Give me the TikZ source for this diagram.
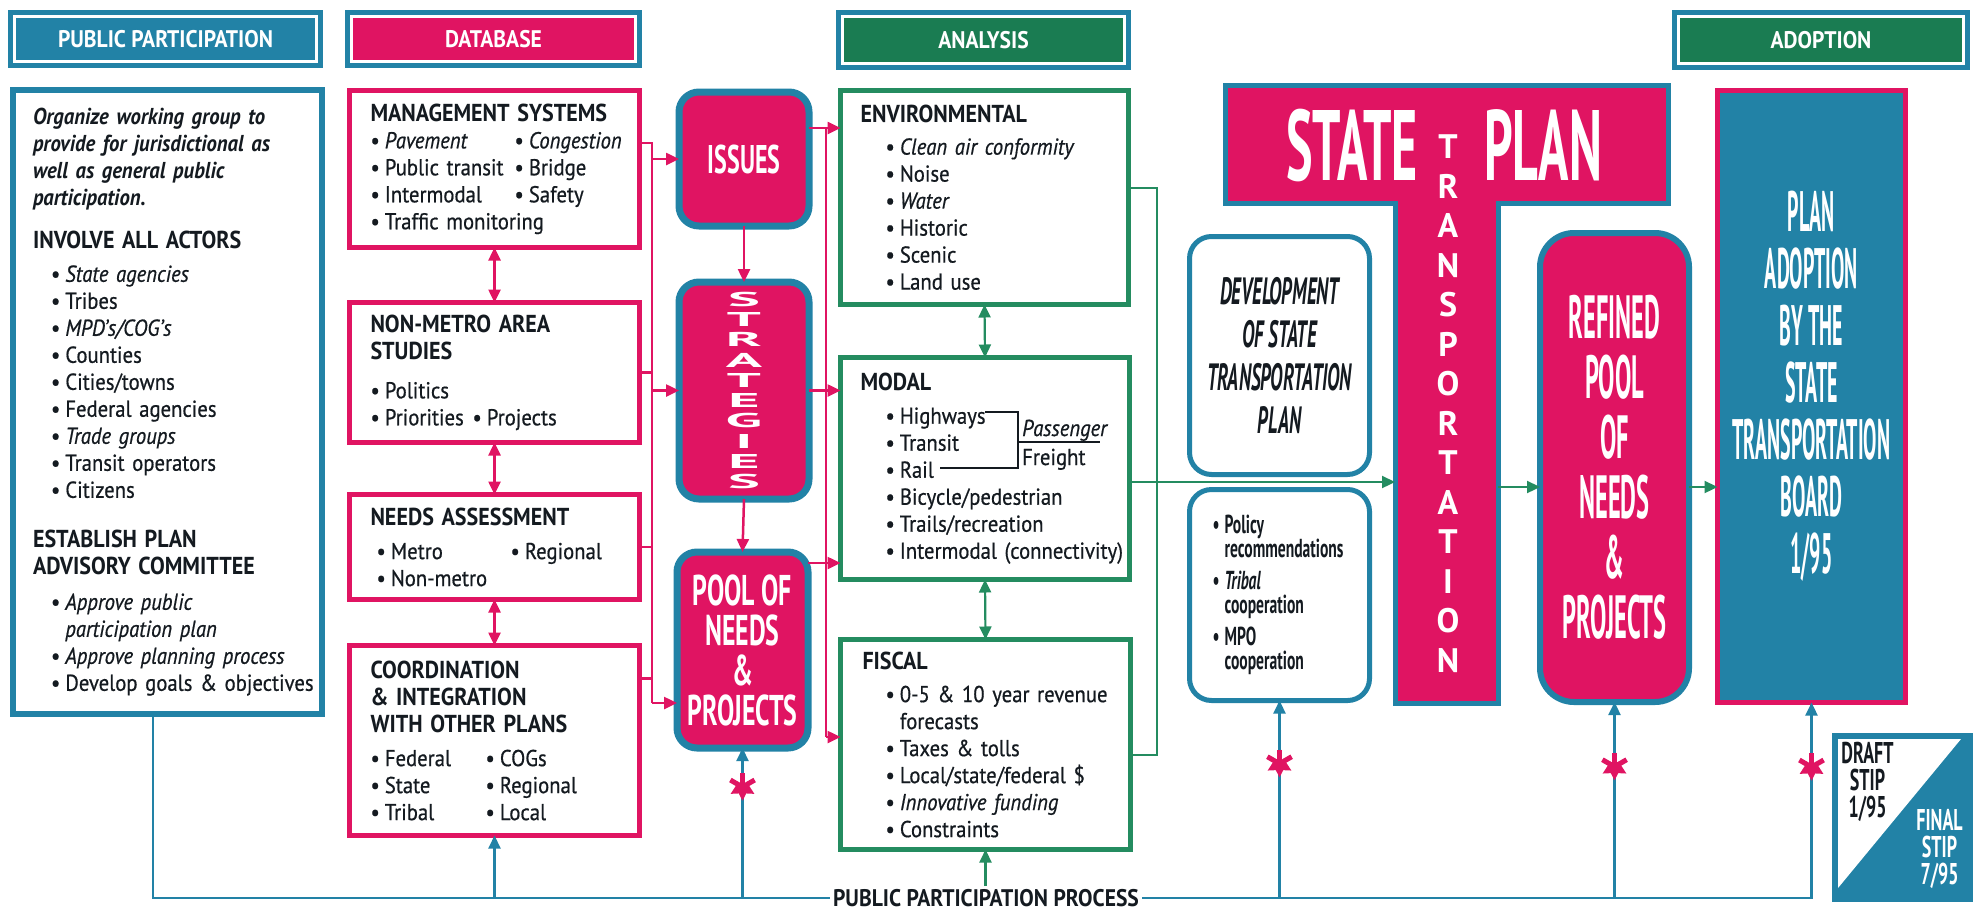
\documentclass[tikz,border=0pt]{standalone}
\usepackage{fontspec}
\setmainfont{PT Sans}[FakeStretch=0.9, UprightFeatures={FakeBold=0.6}, ItalicFeatures={FakeBold=0.6}]
\newfontfamily\narrowA{PT Sans}[FakeStretch=0.35]
\newfontfamily\narrowR{PT Sans}[FakeStretch=0.4]
\newfontfamily\narrowB{PT Sans}[FakeStretch=0.5]
\newfontfamily\narrowC{PT Sans}[FakeStretch=0.6]
\newfontfamily\wideF{PT Sans}[FakeStretch=3.0]
\newfontfamily\plainF{PT Sans}
\usetikzlibrary{arrows.meta}

\definecolor{magc}{RGB}{224,20,98}
\definecolor{tealc}{RGB}{34,130,166}
\definecolor{grnc}{RGB}{26,124,82}
\definecolor{grnl}{RGB}{36,140,96}
\definecolor{inkc}{RGB}{20,26,32}

\newcommand{\bodyfont}{\fontsize{23}{27}\selectfont}
\newcommand{\hd}[1]{{\bfseries\fontsize{24.5}{27}\selectfont #1}}
\newcommand{\bl}{\textbullet\hspace{5pt}}
\newcommand{\tw}[3][144pt]{\makebox[#1][l]{\bl #2}\bl #3}
\newcommand{\ind}[1][18pt]{\hspace*{#1}}
\newcommand{\lm}[1]{\leftskip=#1\relax}

\tikzset{
  hdr/.style={fill=#1, draw=white, line width=2.5pt, preaction={draw=tealc, line width=13pt},
    text=white, font=\bfseries\fontsize{24}{26}\selectfont, inner sep=0pt},
  txtbox/.style={draw=#1, line width=5pt, fill=white, anchor=north west, outer sep=0pt,
    inner xsep=4pt, inner ysep=2pt, align=left, text=inkc, font=\bodyfont},
  rbox/.style={draw=tealc, line width=5pt, fill=white, rounded corners=22pt, anchor=north west,
    outer sep=0pt, inner sep=0pt, text=inkc, align=center},
  magbox/.style={fill=magc, draw=tealc, line width=7pt, rounded corners=20pt, anchor=north west,
    outer sep=0pt, inner sep=0pt, text=white, align=center},
  mline/.style={draw=magc, line width=2.5pt},
  gline/.style={draw=grnl, line width=2.2pt},
  tline/.style={draw=tealc, line width=2.2pt},
  asterisk/.style={circle, minimum size=34pt, inner sep=0pt, path picture={
    \foreach \a in {30,90,150}
      \draw[magc, line width=5pt] (path picture bounding box.center) ++(\a:14pt) -- ++(\a+180:28pt);}}
}

\begin{document}
\begin{tikzpicture}[x=1pt, y=-1pt, >={Triangle[length=13pt,width=12pt]}]
\fill[white] (0,0) rectangle (1980,911);
\useasboundingbox (0,0) rectangle (1980,911);

% column headers
\node[hdr=tealc, minimum width=302pt, minimum height=45pt] (hpp) at (165.5,39) {PUBLIC PARTICIPATION};
\node[hdr=magc, minimum width=284pt, minimum height=45pt] (hdb) at (493.5,39) {DATABASE};
\node[hdr=grnc, minimum width=282pt, minimum height=47pt] (han) at (983.5,40) {ANALYSIS};
\node[hdr=grnc, minimum width=285pt, minimum height=47pt] (had) at (1821,40) {ADOPTION};

% public participation
\node[txtbox=tealc, line width=6pt, minimum width=309pt, minimum height=624pt, text width=301pt] (pp) at (13,90) {\lm{16pt}%
  {\bfseries\itshape Organize working group to\\ provide for jurisdictional as\\ well as general public\\ participation.}\\[16pt]
  \hd{INVOLVE ALL ACTORS}\\[6pt]
  \ind\bl\textit{State agencies}\\
  \ind\bl Tribes\\
  \ind\bl\textit{MPD's/COG's}\\
  \ind\bl Counties\\
  \ind\bl Cities/towns\\
  \ind\bl Federal agencies\\
  \ind\bl\textit{Trade groups}\\
  \ind\bl Transit operators\\
  \ind\bl Citizens\\[23pt]
  \hd{ESTABLISH PLAN}\\
  \hd{ADVISORY COMMITTEE}\\[8pt]
  \ind\bl\textit{Approve public}\\
  \ind\phantom{\bl}\textit{participation plan}\\
  \ind\bl\textit{Approve planning process}\\
  \ind\bl Develop goals \& objectives\par};

% database
\node[txtbox=magc, minimum width=290pt, minimum height=157pt, text width=282pt] (mgmt) at (349.5,90.5) {\lm{17pt}%
  \hd{MANAGEMENT SYSTEMS}\\
  \tw{\textit{Pavement}}{\textit{Congestion}}\\
  \tw{Public transit}{Bridge}\\
  \tw{Intermodal}{Safety}\\
  \bl Traffic monitoring\par};
\node[txtbox=magc, minimum width=290pt, minimum height=140pt, text width=282pt] (nonmetro) at (349.5,302.5) {\lm{17pt}%
  \hd{NON-METRO AREA}\\
  \hd{STUDIES}\\[12pt]
  \bl Politics\\
  \tw[102pt]{Priorities}{Projects}\par};
\node[txtbox=magc, minimum width=290pt, minimum height=105pt, text width=282pt] (needs) at (349.5,494.5) {\lm{17pt}%
  \hd{NEEDS ASSESSMENT}\\[7pt]
  \ind[6pt]\tw[134pt]{Metro}{Regional}\\
  \ind[6pt]\bl Non-metro\par};
\node[txtbox=magc, minimum width=290pt, minimum height=190pt, text width=282pt] (coord) at (349.5,645.5) {\lm{17pt}%
  \hd{COORDINATION}\\
  \hd{\& INTEGRATION}\\
  \hd{WITH OTHER PLANS}\\[7pt]
  \tw[115pt]{Federal}{COGs}\\
  \tw[115pt]{State}{Regional}\\
  \tw[115pt]{Tribal}{Local}\par};

% issues, strategies, pool
\node[magbox, minimum width=130pt, minimum height=134pt, font=\narrowC\bfseries\fontsize{40}{40}\selectfont] (issues) at (679,92) {ISSUES};
\node[magbox, minimum width=130pt, minimum height=217pt, font=\wideF\bfseries\fontsize{20}{20.3}\selectfont] (strat) at (679,282) {S\\T\\R\\A\\T\\E\\G\\I\\E\\S};
\node[magbox, minimum width=131pt, minimum height=196pt, font=\narrowC\bfseries\fontsize{43}{40}\selectfont] (pool) at (677,552) {POOL OF\\NEEDS\\\&\\PROJECTS};

% analysis
\node[txtbox=grnl, minimum width=288pt, minimum height=214pt, text width=280pt] (env) at (840.5,90.5) {\lm{16pt}%
  \hd{ENVIRONMENTAL}\\[5pt]
  \ind[25pt]\bl\textit{Clean air conformity}\\
  \ind[25pt]\bl Noise\\
  \ind[25pt]\bl\textit{Water}\\
  \ind[25pt]\bl Historic\\
  \ind[25pt]\bl Scenic\\
  \ind[25pt]\bl Land use\par};
\node[txtbox=grnl, minimum width=289pt, minimum height=222pt, text width=281pt] (modal) at (840.5,357.5) {\lm{16pt}%
  \hd{MODAL}\\[6pt]
  \ind[25pt]\bl Highways\\
  \ind[25pt]\bl Transit\\
  \ind[25pt]\bl Rail\\
  \ind[25pt]\bl Bicycle/pedestrian\\
  \ind[25pt]\bl Trails/recreation\\
  \ind[25pt]\bl Intermodal (connectivity)\par};
\node[txtbox=grnl, minimum width=290pt, minimum height=210pt, text width=282pt] (fiscal) at (840.5,639.5) {\lm{18pt}%
  \hd{FISCAL}\\[6pt]
  \ind[23pt]\bl 0-5 \& 10 year revenue\\
  \ind[23pt]\phantom{\bl}forecasts\\
  \ind[23pt]\bl Taxes \& tolls\\
  \ind[23pt]\bl Local/state/federal \$\\
  \ind[23pt]\bl\textit{Innovative funding}\\
  \ind[23pt]\bl Constraints\par};
\node[anchor=base west, font=\bodyfont\itshape, text=inkc, inner sep=0pt] (pass) at (1022,436) {Passenger};
\node[anchor=base west, font=\bodyfont, text=inkc, inner sep=0pt] (frt) at (1022,465) {Freight};
\draw[inkc, line width=1.3pt] (985,412) -| (1018,468) -- (940,468);
\draw[inkc, line width=1.3pt] (1018,442) -- (1100,442);

% development
\node[rbox, minimum width=180pt, minimum height=238pt, font=\narrowB\bfseries\itshape\fontsize{38}{43}\selectfont] (dev) at (1189.5,236.5) {DEVELOPMENT\\OF STATE\\TRANSPORTATION\\PLAN};
\node[rbox, minimum width=180pt, minimum height=211pt, align=left, text width=160pt, font=\narrowC\bfseries\fontsize{26}{24}\selectfont] (policy) at (1189.5,489.5) {\lm{13pt}%
  \bl Policy\\ \phantom{\bl}recommendations\\[8pt]
  \bl\textit{Tribal}\\ \phantom{\bl}cooperation\\[8pt]
  \bl MPO\\ \phantom{\bl}cooperation\par};

% state transportation plan
\node[fill=magc, draw=tealc, line width=5pt, anchor=north west, outer sep=0pt, minimum width=443pt, minimum height=118pt] (tbar) at (1225,85) {};
\node[fill=magc, draw=tealc, line width=5pt, anchor=north west, outer sep=0pt, minimum width=103pt, minimum height=500pt] (tstem) at (1395,203) {};
\fill[magc] ([xshift=2.5pt,yshift=4pt]tstem.north west) rectangle ([xshift=-2.5pt,yshift=-4pt]tstem.north east);
\node[text=white, font=\narrowB\bfseries\fontsize{100}{100}\selectfont, inner sep=0pt] (tstate) at (1352,145) {STATE};
\node[text=white, font=\narrowB\bfseries\fontsize{100}{100}\selectfont, inner sep=0pt] (tplan) at (1543,145) {PLAN};
\node[text=white, font=\plainF\bfseries\fontsize{34}{39.5}\selectfont, align=center, inner sep=0pt] (tword) at (1448,403.5) {T\\R\\A\\N\\S\\P\\O\\R\\T\\A\\T\\I\\O\\N};

% refined pool and adoption
\node[magbox, line width=6pt, rounded corners=34pt, minimum width=149pt, minimum height=469pt, font=\narrowR\bfseries\fontsize{61}{60}\selectfont] (refined) at (1540,233) {REFINED\\POOL\\OF\\NEEDS\\\&\\PROJECTS};
\node[fill=tealc, draw=magc, line width=5pt, anchor=north west, outer sep=0pt, minimum width=188pt, minimum height=612pt] (adopt) at (1717.5,90.5) {};
\node[text=white, font=\narrowA\bfseries\fontsize{57}{57}\selectfont, align=center, inner sep=0pt] (adopttxt) at ([yshift=10pt]adopt.center) {PLAN\\ADOPTION\\BY THE\\STATE\\TRANSPORTATION\\BOARD\\1/95};

% stip
\node[fill=tealc, draw=tealc, line width=4pt, anchor=north west, outer sep=0pt, inner sep=0pt, minimum width=137pt, minimum height=165pt] (stip) at (1834,735) {};
\fill[white] ([shift={(4pt,-4pt)}]stip.north west) -- ([shift={(-10pt,-4pt)}]stip.north east) -- ([shift={(4pt,12pt)}]stip.south west) -- cycle;
\node[text=inkc, font=\narrowC\bfseries\fontsize{30}{27}\selectfont, align=center, inner sep=0pt] (draft) at ([shift={(-35pt,36pt)}]stip.center) {DRAFT\\STIP\\1/95};
\node[text=white, font=\narrowC\bfseries\fontsize{30}{27}\selectfont, align=center, inner sep=0pt] (final) at ([shift={(37pt,-32pt)}]stip.center) {FINAL\\STIP\\7/95};

% public participation process
\node[text=inkc, font=\bfseries\fontsize{24}{26}\selectfont, inner sep=3pt] (ppp) at (986,898) {PUBLIC PARTICIPATION PROCESS};

% database links
\draw[mline,<->] (mgmt.south) -- (nonmetro.north);
\draw[mline,<->] (nonmetro.south) -- (needs.north);
\draw[mline,<->] (needs.south) -- (coord.north);
\coordinate (mbT) at (652,143);
\coordinate (mbB) at (652,703);
\draw[mline] ([yshift=26pt]mgmt.east) -- (mbT) -- (mbB);
\draw[mline] (nonmetro.east) -- (nonmetro.east -| mbT);
\draw[mline] (needs.east) -- (needs.east -| mbT);
\draw[mline] ([yshift=62pt]coord.east) -- ([yshift=62pt]coord.east -| mbT);
\draw[mline,->] (issues.west -| mbT) -- (issues.west);
\draw[mline,->] (strat.west -| mbT) -- (strat.west);
\draw[mline,->] (mbB) -- (mbB -| pool.west);
\draw[mline,->] (issues.south) -- (strat.north);
\draw[mline,->] (strat.south) -- (pool.north);

% into analysis
\coordinate (rbT) at (826,128);
\coordinate (rbB) at (826,737);
\draw[mline,->] ([yshift=31pt]issues.east) -- ([yshift=31pt]issues.east -| env.west);
\draw[mline] (rbT) -- (rbB);
\draw[mline,->] (strat.east) -- (strat.east -| modal.west);
\draw[mline,->] ([yshift=87pt]pool.east) -- ([yshift=87pt]pool.east -| modal.west);
\draw[mline,->] (rbB) -- (rbB -| fiscal.west);
\draw[gline,<->] (env.south) -- (modal.north);
\draw[gline,<->] (modal.south) -- (fiscal.north);

% analysis to plan
\coordinate (gb) at (1157,188);
\draw[gline] ([yshift=9.5pt]env.east) -- (gb) |- ([yshift=-10.5pt]fiscal.east);
\draw[gline,->] ([yshift=-13.5pt]modal.east) -- ([yshift=-13.5pt]modal.east -| tstem.west);
\draw[gline,->] ([yshift=-19.5pt]refined.west -| tstem.east) -- ([yshift=-19.5pt]refined.west);
\draw[gline,->] ([yshift=-19.5pt]refined.east) -- ([yshift=-19.5pt]refined.east -| adopt.west);

% public participation process line
\draw[tline] ([xshift=-14.5pt]pp.south) |- (ppp.west);
\draw[tline,->] (coord.south |- ppp.west) -- (coord.south);
\draw[tline,->] (pool.south |- ppp.west) -- node[asterisk, pos=0.74] {} (pool.south);
\draw[gline,->] (ppp.north -| fiscal.south) -- (fiscal.south);
\draw[tline,->] (policy.south |- ppp.west) -- node[asterisk, pos=0.68] {} (policy.south);
\draw[tline,->] (refined.south |- ppp.west) -- node[asterisk, pos=0.67] {} (refined.south);
\draw[tline,->] (ppp.east) -- (ppp.east -| adopt.south) -- node[asterisk, pos=0.67] {} (adopt.south);
\end{tikzpicture}
\end{document}
